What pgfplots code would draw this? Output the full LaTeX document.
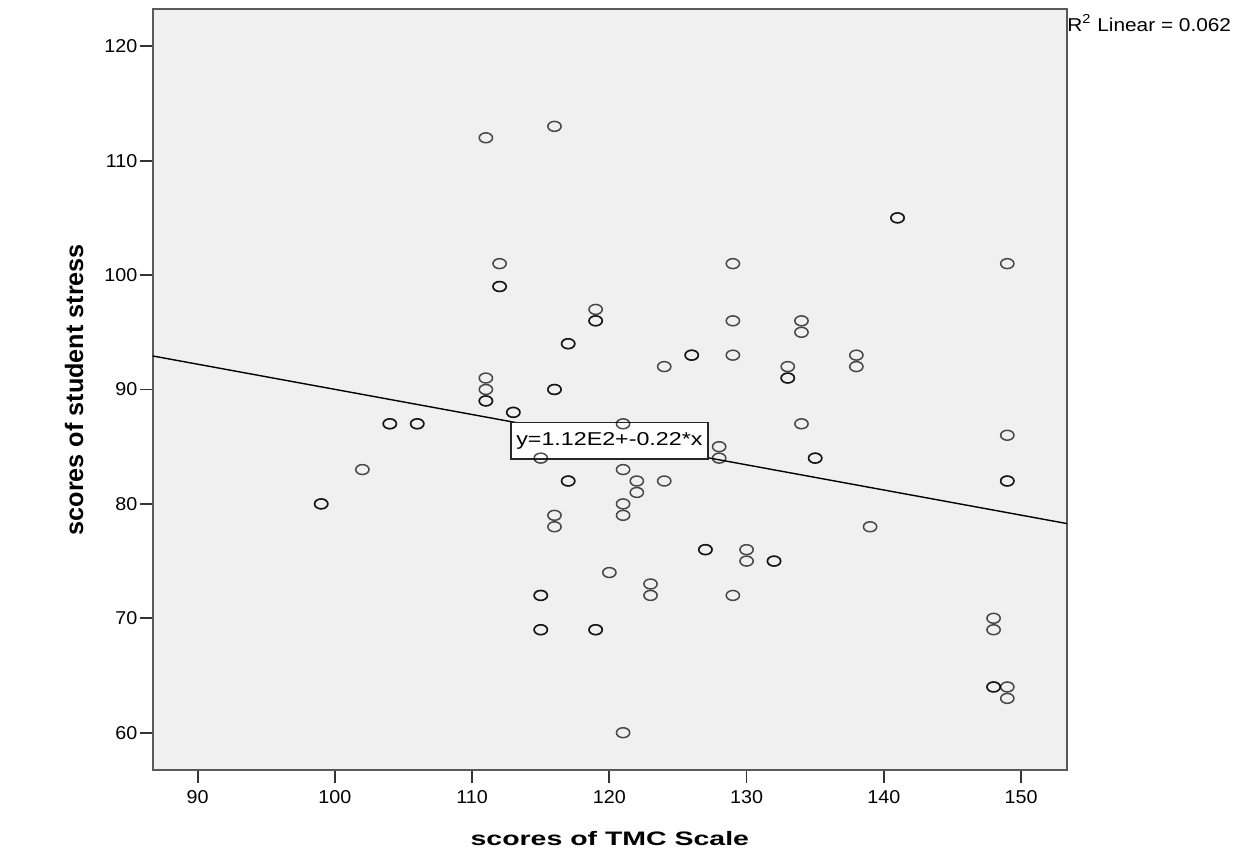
\documentclass[border=0pt]{standalone}
\usepackage{fontspec}
\setmainfont{Liberation Sans}
\newfontfamily\tickfont[FakeStretch=1.06]{Liberation Sans}
\newfontfamily\xlabfont[FakeStretch=1.46]{Liberation Sans}
\newfontfamily\boxfont[FakeStretch=1.25]{Liberation Sans}
\newfontfamily\rfont[FakeStretch=1.12]{Liberation Sans}
\usepackage{pgfplots}
\pgfplotsset{compat=1.18}
\definecolor{plotbg}{HTML}{F0F0F0}

% TMC scale vs student stress (doubled rows = overlapping cases)
\pgfplotstableread{
x y
99 80
99 80
102 83
104 87
104 87
106 87
106 87
111 112
116 113
112 101
112 99
112 99
111 91
111 90
111 89
111 89
113 88
113 88
115 84
116 90
116 90
116 79
116 78
115 72
115 72
115 69
115 69
117 94
117 94
117 82
117 82
119 97
119 96
119 96
119 69
119 69
120 74
121 87
121 83
121 80
121 79
121 60
122 82
122 81
123 73
123 72
124 92
124 82
126 93
126 93
127 76
127 76
128 85
128 84
129 101
129 96
129 93
129 72
130 76
130 75
132 75
132 75
133 92
133 91
133 91
134 96
134 95
134 87
135 84
135 84
138 93
138 92
139 78
141 105
141 105
148 70
148 69
148 64
148 64
149 101
149 86
149 82
149 82
149 64
149 63
}\stressdata

\begin{document}
\begin{tikzpicture}
\path[use as bounding box] (-76.35pt,-39pt) rectangle (543.15pt,385pt);
\begin{axis}[
    name=ax,
    scale only axis,
    width=457.15pt, height=380.35pt,
    xmin=86.72, xmax=153.35,
    ymin=56.74, ymax=123.23,
    xtick={90,100,...,150},
    ytick={60,70,...,120},
    tick pos=left,
    tick align=outside,
    major tick length=6.5pt,
    every tick/.style={black!80, line width=0.9pt},
    axis line style={black!65, line width=1pt},
    axis background/.style={fill=plotbg},
    /pgf/number format/assume math mode=true,
    ticklabel style={font=\tickfont\fontsize{9.3pt}{11pt}\selectfont},
    yticklabel style={inner xsep=1pt},
    xlabel={scores of TMC Scale},
    ylabel={scores of student stress},
    xlabel style={font=\xlabfont\bfseries\fontsize{9.75pt}{12pt}\selectfont,
        at={(axis description cs:0.5,-0.0986)}, anchor=base},
    ylabel style={font=\bfseries\fontsize{12.6pt}{15pt}\selectfont,
        at={(axis description cs:-0.0762,0.5)}, anchor=base},
]
\addplot[black, line width=0.7pt] coordinates {(86.72,92.93) (153.35,78.28)};
\addplot[only marks, mark=o, mark size=2.48pt, black, draw opacity=0.7,
    mark options={xscale=1.34, line width=0.75pt}] table[x=x, y=y] {\stressdata};
\node[draw=black!85, line width=0.75pt, fill=white, anchor=north west,
    minimum width=98.5pt, minimum height=18.3pt, inner sep=0pt,
    font=\boxfont\fontsize{9.3pt}{11pt}\selectfont]
    at (axis cs:112.77,87.19) {y=1.12E2+-0.22*x};
\end{axis}
\node[anchor=base west, inner sep=0pt, font=\rfont\fontsize{9.3pt}{11pt}\selectfont]
    at ([yshift=-10.85pt]ax.north east) {R\textsuperscript{2} Linear = 0.062};
\end{tikzpicture}
\end{document}
